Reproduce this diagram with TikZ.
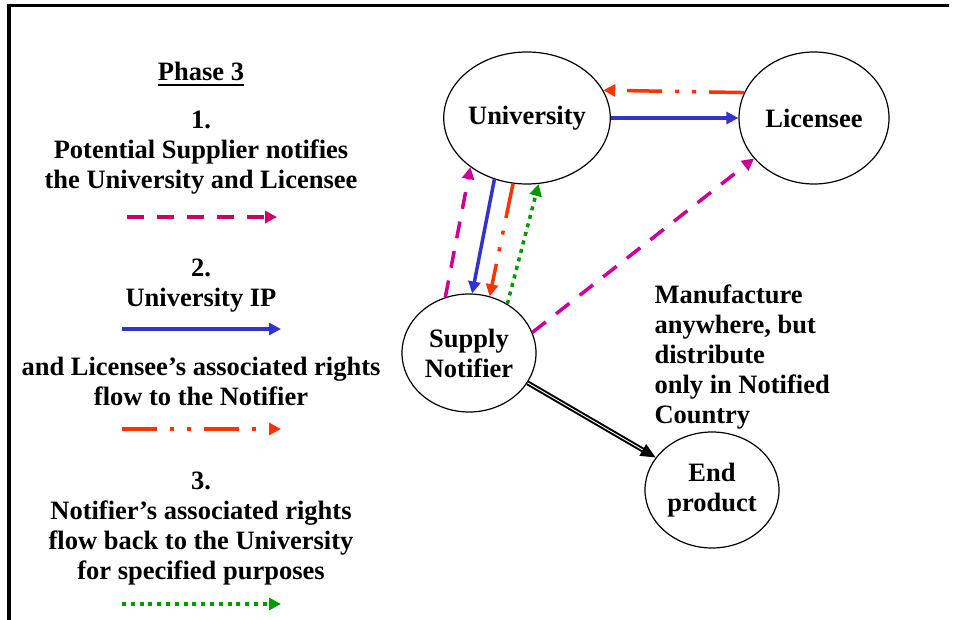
\documentclass[tikz,border=0pt]{standalone}
\usepackage{fontspec}
\setmainfont{Liberation Serif}
\usetikzlibrary{shapes.geometric,arrows.meta}
\definecolor{legpink}{HTML}{CC0066}
\definecolor{notepink}{HTML}{CC0099}
\definecolor{ipblue}{HTML}{3333CC}
\definecolor{rightsred}{HTML}{FF3300}
\definecolor{backgreen}{HTML}{009900}

\begin{document}
\begin{tikzpicture}[x=1pt,y=-1pt,
    every node/.style={font=\fontsize{26.5}{30}\selectfont\bfseries},
    party/.style={ellipse,draw,line width=1.2pt,inner sep=0pt,align=center},
    flow/.style={line width=3.5pt,-{Triangle[length=12pt,width=12pt]}},
    notify/.style={flow,dash pattern=on 17pt off 13pt},
    iprights/.style={flow,ipblue},
    licrights/.style={flow,rightsred,dash pattern=on 35pt off 13pt on 4pt off 13pt on 4pt off 13pt},
    backrights/.style={flow,backgreen,dash pattern=on 4pt off 4.8pt}]
    \useasboundingbox (0,0) rectangle (953,620);

    % Frame
    \draw[line width=3.3pt] (9,620) -- (9,5.7) -- (949,5.7);

    % Legend (base = last line)
    \node[inner sep=0pt,anchor=base] (phase) at (201,81) {Phase 3};
    \draw[line width=1.6pt] ([yshift=-4pt]phase.base west) -- ([yshift=-4pt]phase.base east);
    \node[align=center,anchor=base] (step1) at (201,189)
        {1.\\Potential Supplier notifies\\the University and Licensee};
    \coordinate (k1a) at (127,217);
    \coordinate (k1b) at (277,217);
    \draw[notify,legpink] (k1a) -- (k1b);

    \node[align=center,anchor=base] (step2) at (201,307) {2.\\University IP};
    \coordinate (k2a) at (122,329);
    \coordinate (k2b) at (281,329);
    \draw[iprights] (k2a) -- (k2b);

    \node[align=center,anchor=base] (step2b) at (201,405)
        {and Licensee’s associated rights\\flow to the Notifier};
    \coordinate (k3a) at (122,429);
    \coordinate (k3b) at (281,429);
    \draw[licrights] (k3a) -- (k3b);

    \node[align=center,anchor=base] (step3) at (201,579)
        {3.\\Notifier’s associated rights\\flow back to the University\\for specified purposes};
    \coordinate (k4a) at (122,604);
    \coordinate (k4b) at (281,604);
    \draw[backrights] (k4a) -- (k4b);

    % Parties
    \node[party,minimum width=150pt,minimum height=132pt] (uni) at (527,118) {University};
    \node[party,minimum width=150pt,minimum height=132pt] (lic) at (814,118) {Licensee};
    \node[party,minimum width=134pt,minimum height=118pt] (sup) at (469,353) {Supply\\Notifier};
    \node[party,minimum width=134pt,minimum height=116pt] (endp) at (712,490) {End\\product};

    \node[align=left,anchor=base west] (terms) at (651,423)
        {Manufacture\\anywhere, but\\distribute\\only in Notified\\Country};

    % Flows
    \draw[licrights] (lic.160) -- (uni.20);
    \draw[iprights] (uni.east) -- (lic.west);
    \draw[iprights] (uni.242) -- (sup.87);
    \draw[licrights] (uni.258) -- (sup.70);
    \draw[backrights] (sup.52) -- (uni.280);
    \draw[notify,notepink] (sup.113) -- (uni.221);
    \draw[notify,notepink] (sup.18) -- (lic.214);
    \draw[line width=2pt,double=white,double distance=0.9pt,
        -{Triangle[length=15pt,width=13pt]}] (sup.333) -- (endp.150);
\end{tikzpicture}
\end{document}
